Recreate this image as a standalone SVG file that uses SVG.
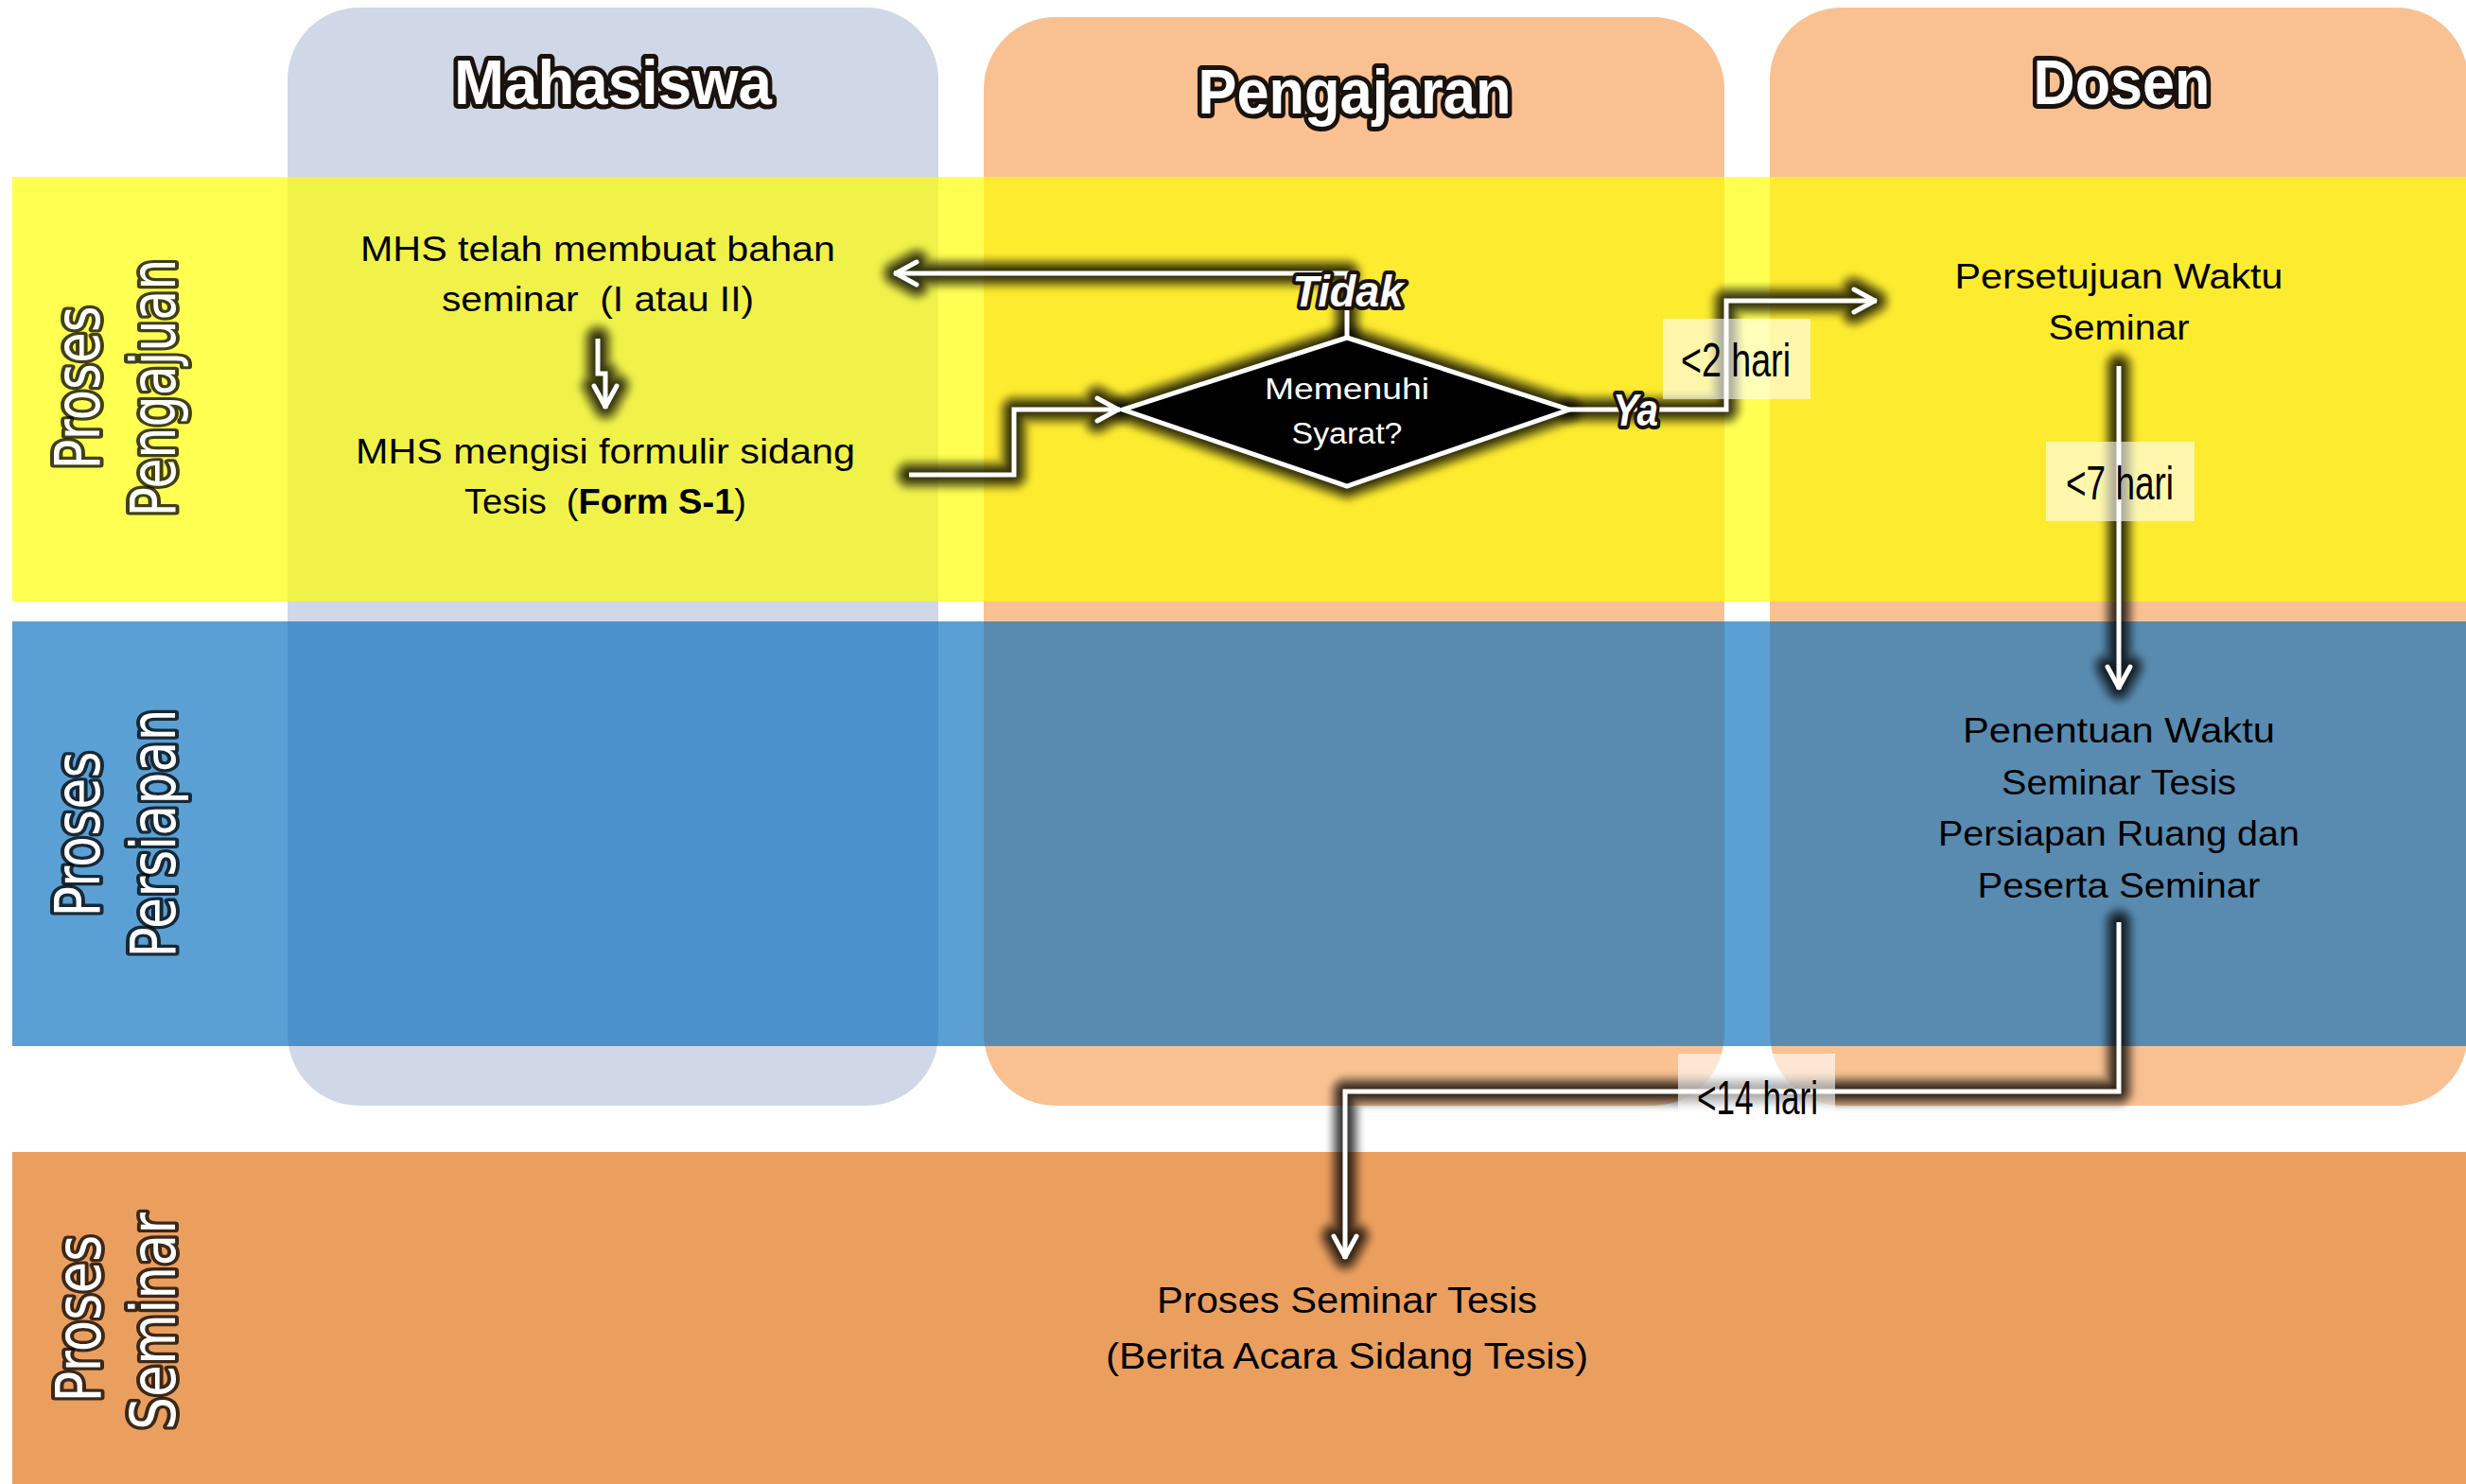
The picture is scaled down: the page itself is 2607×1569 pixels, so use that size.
<svg xmlns="http://www.w3.org/2000/svg" width="2607" height="1569" viewBox="0 0 2607 1569">
<style>
.body{font-family:"Liberation Sans",Arial,sans-serif;font-size:36px;fill:#000;text-anchor:middle;white-space:pre}
.hdr{font-family:"Liberation Sans",Arial,sans-serif;font-weight:bold;font-size:66px;fill:#fff;text-anchor:middle;stroke:#1a120c;stroke-width:10px;stroke-linejoin:round;paint-order:stroke}
.vlab{font-family:"DejaVu Sans",Verdana,sans-serif;font-size:66px;fill:#fff;text-anchor:middle;stroke:#000;stroke-opacity:0.75;stroke-width:8px;stroke-linejoin:round;paint-order:stroke}
.dec{font-family:"Liberation Sans",Arial,sans-serif;font-weight:bold;font-style:italic;fill:#fff;text-anchor:middle;stroke:#1a120c;stroke-width:8px;stroke-linejoin:round;paint-order:stroke}
.tl{font-family:"Liberation Sans",Arial,sans-serif;font-size:50px;fill:#000;text-anchor:middle}
.lbox{fill:#fff;fill-opacity:0.6}
.conn{fill:none;stroke:#fff;stroke-width:5;stroke-linejoin:miter}
.halo{fill:none;stroke:#000;stroke-linecap:round;stroke-linejoin:round}
</style>
<defs>
<filter id="soft" filterUnits="userSpaceOnUse" x="0" y="0" width="2607" height="1569">
<feGaussianBlur stdDeviation="3"/>
</filter>
<filter id="soft2" filterUnits="userSpaceOnUse" x="0" y="0" width="2607" height="1569">
<feGaussianBlur stdDeviation="1.2"/>
</filter>
<marker id="ah" markerUnits="userSpaceOnUse" orient="auto" markerWidth="40" markerHeight="40" viewBox="-30 -20 40 40" refX="0" refY="0" overflow="visible">
<path d="M -24 -12 L -2 0 L -24 12" fill="none" stroke="#fff" stroke-width="5" stroke-linecap="round" stroke-linejoin="round"/>
</marker>
<g id="halo-geom">
<path d="M 632 358 V 395 H 640 V 430 M 652 408 L 640 430 L 628 408"/>
<path d="M 961 502 H 1072 V 433 H 1182 M 1160 421 L 1182 433 L 1160 445"/>
<path d="M 1424 357 V 289 H 947 M 969 301 L 947 289 L 969 277"/>
<path d="M 1659 433 H 1825 V 318 H 1982 M 1960 306 L 1982 318 L 1960 330"/>
<path d="M 2240 387 V 727 M 2252 705 L 2240 727 L 2228 705"/>
<path d="M 2240 975 V 1154 H 1422 V 1329 M 1434 1307 L 1422 1329 L 1410 1307"/>
<polygon points="1424,357 1659,433 1424,514 1187,433"/>
</g>
</defs>

<g id="lanes">
<rect id="lane-mahasiswa" x="304" y="8" width="688" height="1161" rx="76" ry="76" fill="#D0D7E6"/>
<rect id="lane-pengajaran" x="1040" y="18" width="783" height="1151" rx="76" ry="76" fill="#F9C192"/>
<rect id="lane-dosen" x="1871" y="8" width="738" height="1161" rx="76" ry="76" fill="#F9C192"/>
</g>

<g id="bands">
<rect id="band-pengajuan" x="13" y="187" width="2594" height="449" fill="#FFFF00" fill-opacity="0.68"/>
<rect id="band-persiapan" x="13" y="657" width="2594" height="449" fill="#066FBF" fill-opacity="0.66"/>
<rect id="band-seminar" x="13" y="1218" width="2594" height="351" fill="#EB9F5F"/>
</g>

<g id="headers">
<text class="hdr" x="648" y="110" textLength="336" lengthAdjust="spacingAndGlyphs">Mahasiswa</text>
<text class="hdr" x="1432" y="120" textLength="331" lengthAdjust="spacingAndGlyphs">Pengajaran</text>
<text class="hdr" x="2243" y="110" textLength="187" lengthAdjust="spacingAndGlyphs">Dosen</text>
</g>

<g id="band-labels">
<text class="vlab" transform="translate(105,410) rotate(-90)" textLength="173" lengthAdjust="spacingAndGlyphs">Proses</text>
<text class="vlab" transform="translate(185,410) rotate(-90)" textLength="273" lengthAdjust="spacingAndGlyphs">Pengajuan</text>
<text class="vlab" transform="translate(105,882) rotate(-90)" textLength="175" lengthAdjust="spacingAndGlyphs">Proses</text>
<text class="vlab" transform="translate(185,881) rotate(-90)" textLength="263" lengthAdjust="spacingAndGlyphs">Persiapan</text>
<text class="vlab" transform="translate(106,1394) rotate(-90)" textLength="177" lengthAdjust="spacingAndGlyphs">Proses</text>
<text class="vlab" transform="translate(185,1397) rotate(-90)" textLength="230" lengthAdjust="spacingAndGlyphs">Seminar</text>
</g>

<g id="glow" filter="url(#soft)">
<use href="#halo-geom" class="halo" stroke-width="32" stroke-opacity="0.28"/>
<use href="#halo-geom" class="halo" stroke-width="22" stroke-opacity="0.38"/>
<use href="#halo-geom" class="halo" stroke-width="13" stroke-opacity="0.55"/>
</g>

<g id="connectors">
<path id="c-bahan-formulir" class="conn" d="M 632 358 V 395 H 640 V 432" marker-end="url(#ah)"/>
<path id="c-formulir-syarat" class="conn" d="M 961 502 H 1072 V 433 H 1184" marker-end="url(#ah)"/>
<path id="c-tidak" class="conn" d="M 1424 357 V 289 H 945" marker-end="url(#ah)"/>
<path id="c-ya" class="conn" d="M 1659 433 H 1825 V 318 H 1984" marker-end="url(#ah)"/>
<path id="c-7hari" class="conn" d="M 2240 387 V 729" marker-end="url(#ah)"/>
<path id="c-14hari" class="conn" d="M 2240 975 V 1154 H 1422 V 1331" marker-end="url(#ah)"/>
</g>

<g id="node-bahan">
<text class="body" x="632" y="276" textLength="502" lengthAdjust="spacingAndGlyphs">MHS telah membuat bahan</text>
<text class="body" x="632" y="329" textLength="330" lengthAdjust="spacingAndGlyphs">seminar  (I atau II)</text>
</g>
<g id="node-formulir">
<text class="body" x="640" y="490" textLength="528" lengthAdjust="spacingAndGlyphs">MHS mengisi formulir sidang</text>
<text class="body" x="640" y="543" textLength="298" lengthAdjust="spacingAndGlyphs">Tesis  (<tspan font-weight="bold">Form S-1</tspan>)</text>
</g>
<g id="node-syarat">
<polygon points="1424,357 1659,433 1424,514 1187,433" fill="#000" stroke="#fff" stroke-width="5"/>
<text class="body" x="1424" y="422" style="fill:#fff;font-size:31px" textLength="174" lengthAdjust="spacingAndGlyphs">Memenuhi</text>
<text class="body" x="1424" y="469" style="fill:#fff;font-size:31px" textLength="117" lengthAdjust="spacingAndGlyphs">Syarat?</text>
</g>
<g id="node-persetujuan">
<text class="body" x="2240" y="305" textLength="347" lengthAdjust="spacingAndGlyphs">Persetujuan Waktu</text>
<text class="body" x="2240" y="359" textLength="149" lengthAdjust="spacingAndGlyphs">Seminar</text>
</g>
<g id="node-penentuan">
<text class="body" x="2240" y="785" textLength="330" lengthAdjust="spacingAndGlyphs">Penentuan Waktu</text>
<text class="body" x="2240" y="840" textLength="248" lengthAdjust="spacingAndGlyphs">Seminar Tesis</text>
<text class="body" x="2240" y="894" textLength="382" lengthAdjust="spacingAndGlyphs">Persiapan Ruang dan</text>
<text class="body" x="2240" y="949" textLength="299" lengthAdjust="spacingAndGlyphs">Peserta Seminar</text>
</g>
<g id="node-seminar">
<text class="body" x="1424" y="1388" style="font-size:38px" textLength="402" lengthAdjust="spacingAndGlyphs">Proses Seminar Tesis</text>
<text class="body" x="1424" y="1447" style="font-size:38px" textLength="510" lengthAdjust="spacingAndGlyphs">(Berita Acara Sidang Tesis)</text>
</g>

<g id="decision-labels">
<text class="dec" x="1425" y="324" font-size="47" textLength="117" lengthAdjust="spacingAndGlyphs">Tidak</text>
<text class="dec" x="1729" y="450" font-size="48" textLength="48" lengthAdjust="spacingAndGlyphs">Ya</text>
</g>

<g id="time-labels">
<rect class="lbox" x="1758" y="337" width="156" height="85"/>
<text class="tl" x="1835" y="398" textLength="116" lengthAdjust="spacingAndGlyphs">&lt;2 hari</text>
<rect class="lbox" x="2163" y="467" width="157" height="84"/>
<text class="tl" x="2241" y="528" textLength="114" lengthAdjust="spacingAndGlyphs">&lt;7 hari</text>
<rect class="lbox" x="1774" y="1114" width="166" height="78"/>
<text class="tl" x="1858" y="1178" textLength="128" lengthAdjust="spacingAndGlyphs">&lt;14 hari</text>
</g>
</svg>
